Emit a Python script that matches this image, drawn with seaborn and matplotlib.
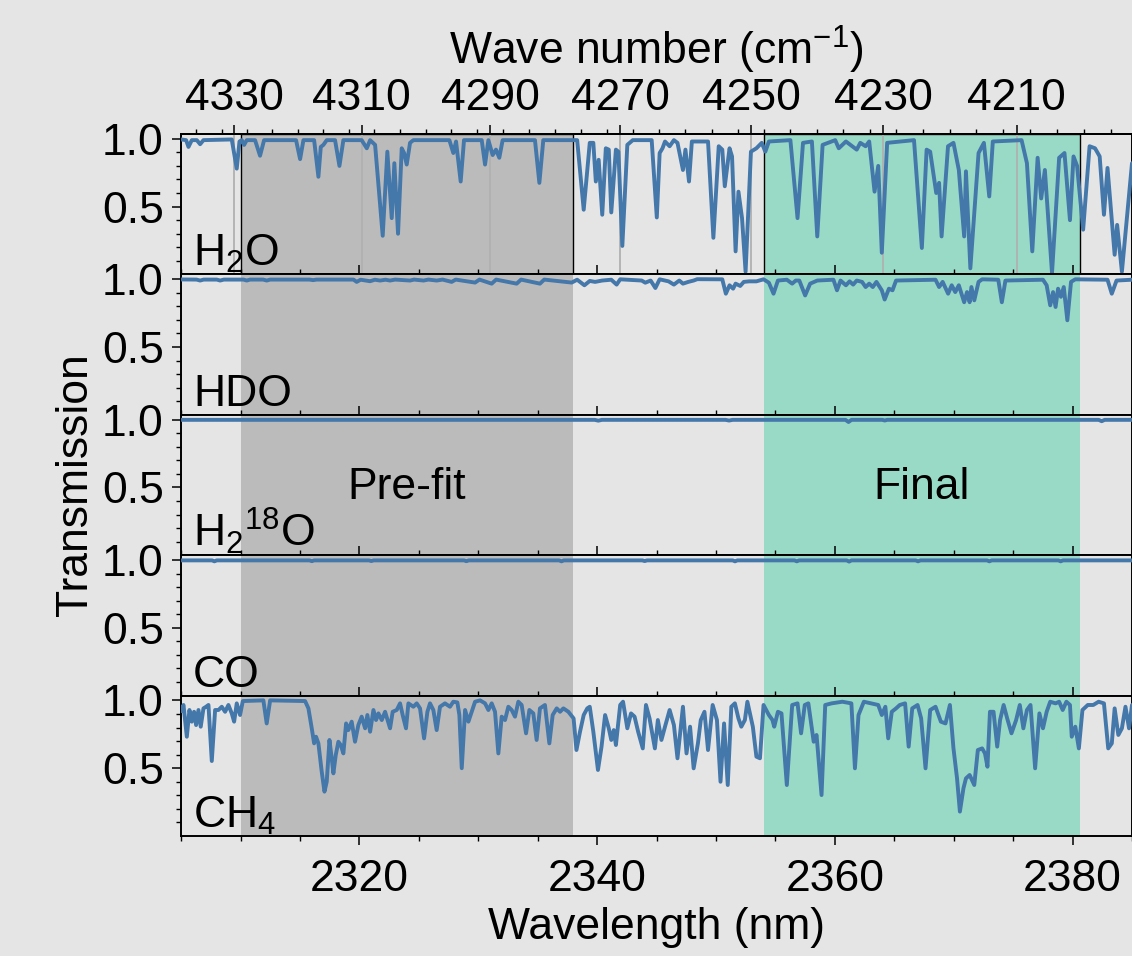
import numpy as np
import matplotlib
matplotlib.use("Agg")
import matplotlib.pyplot as plt
from matplotlib.ticker import MultipleLocator, FixedLocator
import seaborn as sns

# ---- transmission spectra: (wavelength nm, transmission) samples per absorber ----
h2o = [
    (2305.00, 0.995), (2305.42, 0.99), (2305.62, 0.94), (2305.90, 0.99), (2306.32, 0.99),
    (2306.60, 0.96), (2306.88, 0.99), (2309.26, 0.995), (2309.68, 0.78), (2309.91, 0.98),
    (2310.10, 0.99), (2310.30, 0.955), (2310.52, 0.99), (2311.22, 0.99), (2311.64, 0.875),
    (2311.98, 0.99), (2314.67, 0.99), (2315.01, 0.85), (2315.29, 0.99), (2316.19, 0.99),
    (2316.55, 0.72), (2316.75, 0.94), (2316.97, 0.955), (2317.25, 0.99), (2317.95, 0.99),
    (2318.32, 0.80), (2318.65, 0.99), (2320.19, 0.99), (2320.62, 0.93), (2320.90, 0.99),
    (2321.32, 0.955), (2321.96, 0.285), (2322.35, 0.905), (2322.72, 0.415), (2322.94, 0.82),
    (2323.25, 0.30), (2323.56, 0.93), (2323.76, 0.895), (2323.98, 0.81), (2324.26, 0.97),
    (2324.54, 0.99), (2327.57, 0.99), (2327.90, 0.895), (2328.13, 0.98), (2328.52, 0.685),
    (2328.80, 0.99), (2330.29, 0.99), (2330.57, 0.81), (2330.85, 0.99), (2331.21, 0.88),
    (2331.49, 0.92), (2331.77, 0.86), (2332.05, 0.99), (2334.77, 0.99), (2335.14, 0.675),
    (2335.47, 0.99), (2338.32, 0.99), (2338.87, 0.477), (2339.38, 0.97), (2339.68, 0.97),
    (2339.89, 0.685), (2340.13, 0.845), (2340.43, 0.44), (2340.73, 0.93), (2340.98, 0.92),
    (2341.19, 0.457), (2341.58, 0.92), (2341.79, 0.905), (2342.12, 0.21), (2342.54, 0.955),
    (2343.00, 0.99), (2344.59, 0.99), (2345.02, 0.42), (2345.26, 0.895), (2345.50, 0.93),
    (2345.71, 0.98), (2346.10, 0.945), (2346.46, 0.99), (2346.76, 0.97), (2347.22, 0.77),
    (2347.43, 0.92), (2347.73, 0.685), (2347.97, 0.98), (2349.33, 0.98), (2349.78, 0.27),
    (2350.23, 0.945), (2350.53, 0.92), (2350.74, 0.65), (2351.14, 0.93), (2351.35, 0.87),
    (2351.65, 0.17), (2351.89, 0.61), (2352.19, 0.415), (2352.49, 0.02), (2352.94, 0.905),
    (2353.40, 0.93), (2353.85, 0.97), (2354.15, 0.905), (2354.45, 0.98), (2356.26, 0.99),
    (2356.86, 0.415), (2357.32, 0.97), (2358.07, 0.98), (2358.52, 0.28), (2358.97, 0.955),
    (2360.03, 0.99), (2360.33, 0.93), (2360.93, 0.98), (2361.84, 0.92), (2362.14, 0.97),
    (2362.59, 0.945), (2362.89, 0.98), (2363.34, 0.61), (2363.65, 0.80), (2363.95, 0.16),
    (2364.40, 0.97), (2366.66, 0.99), (2367.32, 0.195), (2367.72, 0.92), (2368.02, 0.905),
    (2368.53, 0.60), (2368.77, 0.675), (2368.98, 0.28), (2369.52, 0.945), (2369.98, 0.97),
    (2370.43, 0.77), (2370.88, 0.28), (2371.03, 0.76), (2371.40, 0.045), (2372.09, 0.895),
    (2372.54, 0.97), (2372.99, 0.575), (2373.29, 0.98), (2375.71, 0.99), (2376.16, 0.82),
    (2376.61, 0.17), (2377.06, 0.86), (2377.36, 0.56), (2377.67, 0.77), (2378.27, 0.01),
    (2378.87, 0.86), (2379.32, 0.895), (2379.78, 0.40), (2380.08, 0.87), (2380.38, 0.80),
    (2380.89, 0.33), (2381.43, 0.945), (2381.89, 0.93), (2382.28, 0.87), (2382.64, 0.44),
    (2382.94, 0.785), (2383.54, 0.145), (2383.75, 0.365), (2384.15, 0.02), (2385.00, 0.82),
]

hdo = [
    (2305.00, 0.998), (2306.30, 0.997), (2306.60, 0.99), (2306.90, 0.997), (2308.00, 0.997),
    (2308.28, 0.99), (2308.60, 0.997), (2310.25, 0.997), (2310.52, 0.99), (2310.80, 0.997),
    (2311.90, 0.997), (2312.20, 0.99), (2312.50, 0.997), (2315.80, 0.997), (2316.10, 0.993),
    (2316.40, 0.997), (2319.50, 0.997), (2319.77, 0.98), (2320.10, 0.996), (2320.90, 0.985),
    (2321.30, 0.996), (2321.74, 0.99), (2322.20, 0.996), (2322.58, 0.99), (2323.00, 0.997),
    (2324.26, 0.99), (2324.60, 0.997), (2325.40, 0.99), (2325.80, 0.997), (2326.50, 0.99),
    (2327.00, 0.997), (2327.76, 0.98), (2328.10, 0.997), (2329.73, 0.975), (2330.10, 0.997),
    (2331.13, 0.967), (2331.50, 0.997), (2333.23, 0.967), (2333.60, 0.997), (2335.19, 0.967),
    (2335.55, 0.997), (2337.86, 0.975), (2338.32, 0.996), (2338.93, 0.955), (2339.38, 0.987),
    (2339.83, 0.98), (2340.43, 0.99), (2341.19, 0.996), (2341.64, 0.96), (2341.94, 0.999),
    (2343.75, 0.99), (2344.05, 0.974), (2344.50, 0.99), (2344.90, 0.935), (2345.26, 0.999),
    (2346.01, 0.984), (2346.46, 0.96), (2346.91, 0.99), (2347.22, 0.967), (2347.67, 0.98),
    (2348.12, 0.99), (2348.42, 1.0), (2350.53, 0.999), (2350.83, 0.893), (2351.14, 0.955),
    (2351.44, 0.93), (2351.65, 0.967), (2352.04, 0.95), (2352.34, 0.98), (2352.79, 0.984),
    (2353.40, 0.984), (2354.00, 0.999), (2354.45, 0.974), (2354.84, 0.893), (2355.21, 0.99),
    (2355.96, 0.996), (2356.41, 0.967), (2356.71, 0.99), (2357.01, 0.99), (2357.50, 0.88),
    (2357.92, 0.967), (2358.52, 0.99), (2359.88, 0.996), (2360.18, 0.918), (2360.48, 0.99),
    (2360.93, 0.955), (2361.24, 0.984), (2361.54, 0.96), (2361.84, 0.99), (2362.29, 0.98),
    (2362.59, 0.942), (2362.89, 0.967), (2363.19, 0.942), (2363.50, 0.98), (2363.95, 0.918),
    (2364.19, 0.85), (2364.55, 0.93), (2364.85, 0.918), (2365.15, 0.99), (2368.47, 0.996),
    (2368.77, 0.942), (2369.07, 0.98), (2369.53, 0.893), (2369.83, 0.955), (2370.13, 0.905),
    (2370.43, 0.955), (2370.88, 0.83), (2371.12, 0.905), (2371.34, 0.83), (2371.49, 0.942),
    (2371.73, 0.844), (2372.09, 0.98), (2372.39, 0.999), (2373.75, 0.996), (2374.05, 0.83),
    (2374.35, 0.99), (2377.51, 0.996), (2377.82, 0.955), (2378.12, 0.807), (2378.36, 0.905),
    (2378.57, 0.795), (2378.78, 0.93), (2379.02, 0.87), (2379.26, 0.942), (2379.56, 0.697),
    (2379.87, 0.98), (2380.23, 0.999), (2382.94, 0.996), (2383.30, 0.893), (2383.70, 0.99),
    (2385.00, 0.996),
]

h2_18o = [
    (2305.00, 0.998), (2339.80, 0.998), (2340.10, 0.992), (2340.40, 0.998), (2350.80, 0.998),
    (2351.10, 0.993), (2351.40, 0.998), (2360.90, 0.998), (2361.15, 0.982), (2361.40, 0.998),
    (2364.00, 0.998), (2364.20, 0.993), (2364.40, 0.998), (2382.20, 0.998), (2382.45, 0.988),
    (2382.70, 0.998), (2385.00, 0.998),
]

co = [
    (2305.00, 0.997), (2307.60, 0.997), (2307.80, 0.99), (2308.00, 0.997), (2315.80, 0.997),
    (2316.00, 0.991), (2316.20, 0.997), (2320.80, 0.997), (2321.00, 0.992), (2321.20, 0.997),
    (2328.80, 0.997), (2329.00, 0.991), (2329.20, 0.997), (2336.80, 0.997), (2337.00, 0.99),
    (2337.20, 0.997), (2343.80, 0.997), (2344.00, 0.992), (2344.20, 0.997), (2351.40, 0.997),
    (2351.60, 0.99), (2351.80, 0.997), (2356.60, 0.997), (2356.80, 0.99), (2357.00, 0.997),
    (2361.00, 0.997), (2361.20, 0.988), (2361.40, 0.997), (2366.80, 0.997), (2367.00, 0.99),
    (2367.20, 0.997), (2372.80, 0.997), (2373.00, 0.99), (2373.20, 0.997), (2378.80, 0.997),
    (2379.00, 0.99), (2379.20, 0.997), (2385.00, 0.997),
]

ch4 = [
    (2305.00, 0.92), (2305.20, 0.966), (2305.48, 0.732), (2305.70, 0.929), (2305.90, 0.843),
    (2306.09, 0.916), (2306.26, 0.818), (2306.46, 0.929), (2306.65, 0.806), (2306.88, 0.941),
    (2307.10, 0.953), (2307.30, 0.966), (2307.58, 0.553), (2307.86, 0.929), (2308.14, 0.929),
    (2308.42, 0.953), (2308.70, 0.916), (2308.98, 0.966), (2309.26, 0.904), (2309.46, 0.843),
    (2309.68, 0.978), (2309.96, 0.892), (2310.19, 0.995), (2311.92, 1.0), (2312.20, 0.83),
    (2312.49, 1.0), (2315.43, 0.995), (2315.71, 0.941), (2315.99, 0.794), (2316.19, 0.683),
    (2316.35, 0.732), (2316.55, 0.683), (2316.83, 0.474), (2317.06, 0.327), (2317.25, 0.40),
    (2317.48, 0.708), (2317.67, 0.573), (2317.81, 0.462), (2318.01, 0.597), (2318.23, 0.695),
    (2318.43, 0.671), (2318.65, 0.609), (2318.88, 0.83), (2319.07, 0.781), (2319.35, 0.843),
    (2319.63, 0.695), (2319.91, 0.818), (2320.19, 0.88), (2320.48, 0.794), (2320.67, 0.892),
    (2320.90, 0.769), (2321.18, 0.929), (2321.40, 0.855), (2321.60, 0.904), (2321.88, 0.855),
    (2322.16, 0.916), (2322.58, 0.794), (2322.80, 0.916), (2323.14, 0.929), (2323.42, 0.978),
    (2323.64, 0.892), (2323.92, 0.794), (2324.12, 0.978), (2324.54, 0.953), (2324.82, 0.978),
    (2325.10, 0.941), (2325.44, 0.72), (2325.72, 0.916), (2325.94, 0.978), (2326.22, 0.929),
    (2326.50, 0.781), (2326.78, 0.953), (2327.20, 0.978), (2327.62, 0.953), (2327.90, 0.99),
    (2328.24, 0.985), (2328.41, 0.892), (2328.61, 0.50), (2328.89, 0.929), (2329.17, 0.843),
    (2329.45, 0.916), (2329.73, 0.99), (2330.15, 1.0), (2330.57, 0.978), (2330.85, 0.929),
    (2331.13, 0.978), (2331.41, 0.916), (2331.69, 0.609), (2331.97, 0.88), (2332.25, 0.855),
    (2332.53, 0.953), (2332.81, 0.929), (2333.09, 0.88), (2333.37, 0.99), (2333.65, 0.966),
    (2334.02, 0.757), (2334.30, 0.929), (2334.63, 0.904), (2334.91, 0.708), (2335.19, 0.941),
    (2335.61, 0.966), (2335.98, 0.683), (2336.26, 0.892), (2336.60, 0.941), (2336.88, 0.916),
    (2337.16, 0.941), (2337.58, 0.916), (2338.02, 0.867), (2338.26, 0.634), (2338.56, 0.769),
    (2338.87, 0.892), (2339.17, 0.941), (2339.38, 0.953), (2339.68, 0.769), (2340.07, 0.487),
    (2340.37, 0.659), (2340.67, 0.892), (2340.98, 0.794), (2341.19, 0.708), (2341.40, 0.781),
    (2341.58, 0.671), (2341.94, 0.966), (2342.18, 0.99), (2342.54, 0.794), (2342.85, 0.904),
    (2343.15, 0.88), (2343.45, 0.769), (2343.84, 0.646), (2344.11, 0.966), (2344.41, 0.867),
    (2344.86, 0.646), (2345.11, 0.855), (2345.41, 0.708), (2345.71, 0.806), (2346.10, 0.929),
    (2346.46, 0.818), (2346.76, 0.573), (2347.22, 0.953), (2347.52, 0.609), (2347.82, 0.806),
    (2348.12, 0.499), (2348.48, 0.683), (2348.72, 0.855), (2349.03, 0.916), (2349.33, 0.634),
    (2349.72, 0.966), (2350.08, 0.855), (2350.38, 0.40), (2350.68, 0.83), (2350.99, 0.376),
    (2351.29, 0.953), (2351.59, 0.978), (2351.89, 0.867), (2352.13, 0.806), (2352.43, 0.855),
    (2352.64, 0.99), (2353.10, 0.806), (2353.40, 0.585), (2353.70, 0.573), (2354.00, 0.966),
    (2354.45, 0.892), (2354.75, 0.855), (2354.90, 0.806), (2355.21, 0.916), (2355.51, 0.904),
    (2355.96, 0.376), (2356.41, 0.966), (2356.86, 0.978), (2357.16, 0.757), (2357.47, 0.966),
    (2357.77, 0.978), (2358.22, 0.695), (2358.46, 0.745), (2358.88, 0.302), (2359.19, 0.966),
    (2359.73, 0.978), (2360.63, 0.99), (2361.39, 0.978), (2361.69, 0.499), (2361.99, 0.892),
    (2362.44, 0.99), (2363.04, 0.978), (2363.65, 0.966), (2363.95, 0.892), (2364.25, 0.953),
    (2364.49, 0.72), (2364.79, 0.916), (2365.15, 0.941), (2365.46, 0.966), (2365.91, 0.978),
    (2366.21, 0.659), (2366.51, 0.941), (2366.96, 0.966), (2367.26, 0.867), (2367.63, 0.499),
    (2368.02, 0.929), (2368.47, 0.953), (2368.92, 0.843), (2369.31, 0.83), (2369.68, 0.966),
    (2369.98, 0.646), (2370.28, 0.425), (2370.52, 0.18), (2370.82, 0.352), (2371.03, 0.425),
    (2371.34, 0.45), (2371.73, 0.376), (2372.03, 0.634), (2372.39, 0.646), (2372.63, 0.609),
    (2372.84, 0.511), (2373.05, 0.916), (2373.35, 0.916), (2373.66, 0.659), (2373.90, 0.855),
    (2374.20, 0.966), (2374.50, 0.867), (2374.86, 0.757), (2375.25, 0.855), (2375.56, 0.966),
    (2375.86, 0.794), (2376.16, 0.929), (2376.46, 0.966), (2376.85, 0.499), (2377.21, 0.904),
    (2377.51, 0.794), (2377.82, 0.916), (2378.12, 0.99), (2378.57, 0.978), (2378.87, 0.99),
    (2379.17, 0.929), (2379.48, 0.99), (2379.78, 0.966), (2379.93, 0.732), (2380.23, 0.806),
    (2380.53, 0.646), (2380.83, 0.929), (2381.28, 0.966), (2381.74, 0.966), (2382.19, 0.99),
    (2382.64, 0.978), (2383.00, 0.646), (2383.30, 0.683), (2383.54, 0.941), (2383.85, 0.745),
    (2384.15, 0.794), (2384.45, 0.953), (2384.75, 0.794), (2385.00, 0.966),
]

species = ["H$_2$O", "HDO", "H$_2{}^{18}$O", "CO", "CH$_4$"]
spectra = [h2o, hdo, h2_18o, co, ch4]

prefit_window = (2310.0, 2338.0)
final_window = (2354.0, 2380.6)
window_labels = ["Pre-fit", "Final"]

wavelength_ticks = [2320, 2340, 2360, 2380]
wavenumber_ticks = [4330, 4310, 4290, 4270, 4250, 4230, 4210]
transmission_ticks = [0.5, 1.0]
transmission_minor = [0.1, 0.2, 0.3, 0.4, 0.6, 0.7, 0.8, 0.9]

# ---- styling ----
BG = "#e5e5e5"
LINE = "#4477aa"
GREY_WIN = "#bbbbbb"
GREEN_WIN = "#99dac7"
FS = 32

sns.set_theme(style="ticks", rc={
    "figure.facecolor": BG,
    "axes.facecolor": BG,
    "axes.edgecolor": "black",
    "axes.linewidth": 1.4,
    "xtick.color": "black",
    "ytick.color": "black",
    "text.color": "black",
    "axes.labelcolor": "black",
    "lines.linewidth": 2.8,
})
plt.rcParams["font.family"] = ["Liberation Sans", "DejaVu Sans"]
plt.rcParams["mathtext.fontset"] = "custom"
plt.rcParams["mathtext.rm"] = "Liberation Sans"
plt.rcParams["mathtext.it"] = "Liberation Sans:italic"
plt.rcParams["mathtext.bf"] = "Liberation Sans:bold"
plt.rcParams["axes.unicode_minus"] = True

fig, axes = plt.subplots(5, 1, figsize=(11.32, 9.56), dpi=100, sharex=True,
                         gridspec_kw={"hspace": 0})
fig.subplots_adjust(left=0.16, right=1.0, top=0.8598, bottom=0.1255)


def nm_to_wn(x):
    x = np.asarray(x, dtype=float)
    with np.errstate(divide="ignore", invalid="ignore"):
        return np.where(x != 0, 1e7 / x, np.inf)


wn_to_nm = nm_to_wn

for i, (ax, data, label) in enumerate(zip(axes, spectra, species)):
    nm, tr = np.array(data).T
    edge = dict(edgecolor="black", linewidth=1.0) if i == 0 else dict(linewidth=0)
    ax.axvspan(*prefit_window, facecolor=GREY_WIN, zorder=0, **edge)
    ax.axvspan(*final_window, facecolor=GREEN_WIN, zorder=0, **edge)
    if i == 0:
        for wn in wavenumber_ticks:
            ax.axvline(1e7 / wn, color="#b0b0b0", lw=1.3, zorder=1)
    sns.lineplot(x=nm, y=tr, ax=ax, color=LINE, sort=False, estimator=None, zorder=3)
    for ln in ax.get_lines()[-1:]:
        ln.set_linewidth(2.8)
        ln.set_solid_joinstyle("round")
        ln.set_solid_capstyle("round")
    ax.set_xlim(2305, 2385)
    ax.set_ylim(0, 1.035)
    ax.set_yticks(transmission_ticks)
    ax.set_yticklabels([f"{v:.1f}" for v in transmission_ticks])
    ax.yaxis.set_minor_locator(FixedLocator(transmission_minor))
    ax.set_xticks(wavelength_ticks)
    ax.xaxis.set_minor_locator(MultipleLocator(5))
    ax.set_ylabel("")
    ax.set_xlabel("")
    for s in ax.spines.values():
        s.set_linewidth(1.4)
        s.set_color("black")
    ax.tick_params(axis="y", which="both", direction="out", left=True, right=False,
                   labelsize=FS, pad=6, labelcolor="black")
    ax.tick_params(axis="both", which="major", length=6.5, width=1.1)
    ax.tick_params(axis="both", which="minor", length=3.5, width=1.0)
    if i < 4:
        ax.tick_params(axis="x", which="both", direction="in", bottom=True, top=False,
                       labelbottom=False)
    else:
        ax.tick_params(axis="x", which="both", direction="out", bottom=True, top=False,
                       labelsize=FS, pad=10, labelcolor="black")
    ax.text(0.0126, 0.06, label, transform=ax.transAxes, fontsize=FS, color="black",
            ha="left", va="baseline", zorder=5)

# window names in the H2-18O panel
for (lo, hi), name in zip([prefit_window, final_window], window_labels):
    axes[2].text((lo + hi) / 2, 0.5, name, fontsize=FS, color="black",
                 ha="center", va="center", zorder=5)

# wave-number axis on top
sec = axes[0].secondary_xaxis("top", functions=(nm_to_wn, wn_to_nm))
sec.set_xticks(wavenumber_ticks)
sec.xaxis.set_minor_locator(MultipleLocator(4))
sec.tick_params(axis="x", which="major", direction="out", length=6.5, width=1.1,
                labelsize=FS, pad=4, labelcolor="black")
sec.tick_params(axis="x", which="minor", direction="out", length=3.5, width=1.0)
sec.set_xlabel("Wave number (cm$^{-1}$)", fontsize=FS, labelpad=10, color="black")

axes[-1].set_xlabel("Wavelength (nm)", fontsize=FS, labelpad=5, color="black")
fig.text(0.067, 0.493, "Transmission", rotation=90, fontsize=FS, color="black",
         ha="center", va="center")

fig.savefig("out.png", dpi=100, facecolor=fig.get_facecolor())
